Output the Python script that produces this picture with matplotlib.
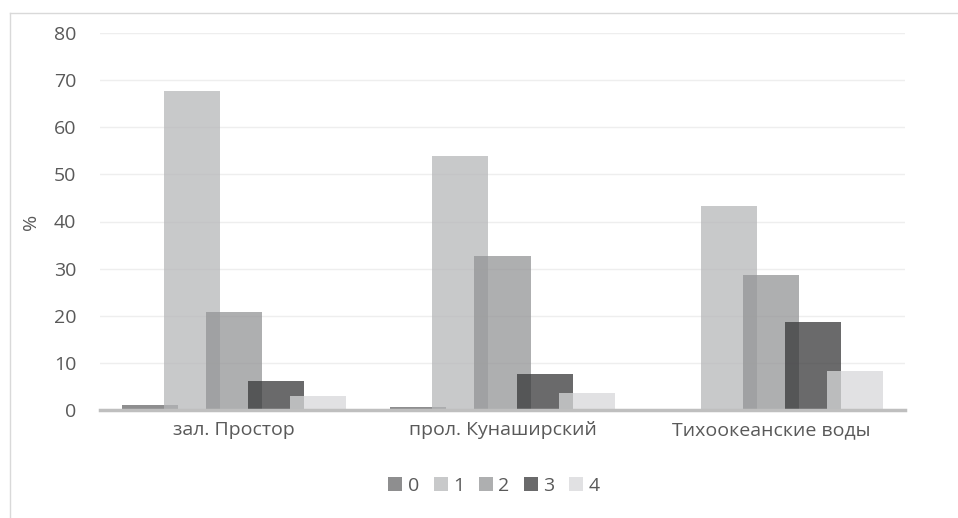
import matplotlib
matplotlib.use("Agg")
import matplotlib.pyplot as plt
import numpy as np
from matplotlib.lines import Line2D

categories = ["зал. Простор", "прол. Кунаширский", "Тихоокеанские воды"]
series_names = ["0", "1", "2", "3", "4"]
s0 = [1.1, 0.7, 0.0]
s1 = [67.6, 53.9, 43.3]
s2 = [20.7, 32.6, 28.7]
s3 = [6.2, 7.7, 18.7]
s4 = [3.0, 3.7, 8.2]
series = [s0, s1, s2, s3, s4]
yticks = [0, 10, 20, 30, 40, 50, 60, 70, 80]

colors = ["#68686a", "#b6b7b9", "#939496", "#38383a", "#d7d8da"]
alpha = 0.75

plt.rcParams['font.family'] = ['Open Sans', 'DejaVu Sans']
fs = 14
fig = plt.figure(figsize=(9.58, 5.18), dpi=100)
ax = fig.add_axes([100/958, 1-410/518, 805/958, 377/518])

x = np.arange(len(categories))
step = 0.157
width = 0.209
for k, (name, vals) in enumerate(zip(series_names, series)):
    ax.bar(x + (k-2)*step, vals, width=width, color=colors[k], alpha=alpha,
           label=name, zorder=3, linewidth=0)

ax.set_xlim(-0.5, 2.5)
ax.set_ylim(0, 80)
ax.set_yticks(yticks)
ax.set_yticklabels([str(v) for v in yticks], fontsize=fs, color="#595959")
ax.set_xticks(x)
ax.set_xticklabels(categories, fontsize=fs, color="#595959")
ax.tick_params(axis='y', length=0, pad=17)
ax.tick_params(axis='x', length=0, pad=8)
ax.grid(axis='y', color="#eeeeee", linewidth=1, zorder=0)
for s in ["top", "right", "left"]:
    ax.spines[s].set_visible(False)
ax.spines["bottom"].set_color("#bfbfbf")
ax.spines["bottom"].set_linewidth(2.5)
ax.spines["bottom"].set_zorder(4)
ax.set_ylabel("%", fontsize=fs, color="#595959", labelpad=10)

handles, labels = ax.get_legend_handles_labels()
fig.legend(handles, labels, loc="center", bbox_to_anchor=(494/958, 1-486/518),
           ncol=5, frameon=False, fontsize=fs, handlelength=0.72, handleheight=0.72,
           handletextpad=0.3, columnspacing=0.72, labelcolor="#595959")

# chart border
fig.add_artist(Line2D([10/958, 10/958], [0, 1-13/518], color="#d9d9d9", linewidth=1, transform=fig.transFigure))
fig.add_artist(Line2D([10/958, 1], [1-13/518, 1-13/518], color="#d9d9d9", linewidth=1, transform=fig.transFigure))

fig.savefig("out.png", dpi=100)
